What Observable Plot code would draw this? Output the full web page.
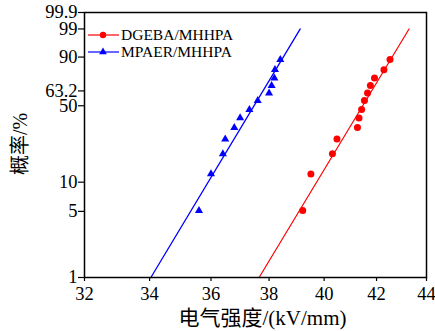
<!DOCTYPE html>
<html>
<head>
<meta charset="utf-8">
<script src="https://cdn.jsdelivr.net/npm/d3@7"></script>
<script src="https://cdn.jsdelivr.net/npm/@observablehq/plot@0.6"></script>
<style>
  body { margin: 0; background: #fff; }
  #chart { width: 435px; height: 331px; }
</style>
</head>
<body>
<div id="chart"></div>
<script>
// Weibull breakdown data: strength (kV/mm) against cumulative failure probability (%)
const probability = [5.1, 12.1, 19.1, 26.3, 33.3, 40.1, 46.8, 54.5, 61.2, 68.0, 74.6, 81.5, 88.5];
const dgebaStrength = [39.21, 39.51, 40.31, 40.48, 41.26, 41.32, 41.42, 41.53, 41.65, 41.76, 41.92, 42.29, 42.53];
const mpaerStrength = [35.60, 36.00, 36.40, 36.48, 36.79, 36.99, 37.31, 37.60, 38.00, 38.09, 38.19, 38.21, 38.40];

// Fitted Weibull lines, given by their end points
const fitProbability = [1, 99];
const dgebaFitStrength = [37.65, 43.29];
const mpaerFitStrength = [34.04, 39.12];

const seriesNames = ["DGEBA/MHHPA", "MPAER/MHHPA"];
const seriesColors = ["#ff0000", "#0000ff"];

const xTicks = [32, 34, 36, 38, 40, 42, 44];
const yTicks = [1, 5, 10, 50, 63.2, 90, 99, 99.9];
const yTickLabels = ["1", "5", "10", "50", "63.2", "90", "99", "99.9"];

const xTitle = "电气强度/(kV/mm)";
const yTitle = "概率/%";

// Weibull probability paper: ln(-ln(1 - F))
const weib = p => Math.log(-Math.log(1 - p / 100));

const rows = (xs, ps) => xs.map((x, i) => ({x, y: weib(ps[i])}));
const dgeba = rows(dgebaStrength, probability);
const mpaer = rows(mpaerStrength, probability);
const dgebaFit = rows(dgebaFitStrength, fitProbability);
const mpaerFit = rows(mpaerFitStrength, fitProbability);

const yLabelOf = new Map(yTicks.map((t, i) => [weib(t), yTickLabels[i]]));

const font = '"Liberation Serif", "Noto Sans CJK SC", serif';

const chart = Plot.plot({
  width: 435,
  height: 331,
  marginLeft: 84,
  marginRight: 9,
  marginTop: 12,
  marginBottom: 54,
  style: {fontFamily: font, fontSize: "18.5px", background: "#fff", color: "#000", overflow: "visible"},
  x: {type: "log", domain: [32, 44]},
  y: {domain: [weib(1), weib(99.9)]},
  marks: [
    Plot.axisX({ticks: xTicks, tickFormat: d => String(d), tickSize: 4, tickPadding: 5, label: null, strokeWidth: 1.2}),
    Plot.axisY({ticks: yTicks.map(weib), tickFormat: d => yLabelOf.get(d), tickSize: 6, tickPadding: 1, label: null, strokeWidth: 1.2}),
    Plot.line(dgebaFit, {x: "x", y: "y", stroke: seriesColors[0], strokeWidth: 1.2}),
    Plot.line(mpaerFit, {x: "x", y: "y", stroke: seriesColors[1], strokeWidth: 1.3}),
    Plot.dot(dgeba, {x: "x", y: "y", r: 3.5, fill: seriesColors[0], symbol: "circle"}),
    Plot.dot(mpaer, {x: "x", y: "y", r: 3, fill: seriesColors[1], symbol: "triangle"}),
    Plot.frame({stroke: "#000", strokeWidth: 1.5}),
    Plot.text([xTitle], {text: d => d, frameAnchor: "bottom", textAnchor: "middle", lineAnchor: "middle", dx: 7, dy: 41, fontSize: 21, fontFamily: font}),
    Plot.text([yTitle], {text: d => d, frameAnchor: "left", textAnchor: "middle", lineAnchor: "middle", dx: -64, dy: -1, rotate: -90, fontSize: 20, fontFamily: font})
  ]
});

document.getElementById("chart").appendChild(chart);

// Legend in the upper-left corner of the frame
const svg = d3.select(chart);
const legend = svg.append("g")
  .attr("font-family", font)
  .attr("font-size", 15.5)
  .attr("text-anchor", "start");
seriesNames.forEach((name, i) => {
  const y = 35 + i * 17;
  const g = legend.append("g").attr("transform", `translate(0,${y})`);
  g.append("line").attr("x1", 88).attr("x2", 119).attr("y1", 0).attr("y2", 0)
    .attr("stroke", seriesColors[i]).attr("stroke-width", 1.2);
  if (i === 0) {
    g.append("circle").attr("cx", 103).attr("cy", 0).attr("r", 3.2).attr("fill", seriesColors[i]);
  } else {
    g.append("path").attr("transform", "translate(103,0)")
      .attr("d", d3.symbol(d3.symbolTriangle, 26)()).attr("fill", seriesColors[i]);
  }
  g.append("text").attr("x", 121).attr("y", 0).attr("dy", "0.35em")
    .attr("text-anchor", "start").attr("fill", "#000").text(name);
});
</script>
</body>
</html>
